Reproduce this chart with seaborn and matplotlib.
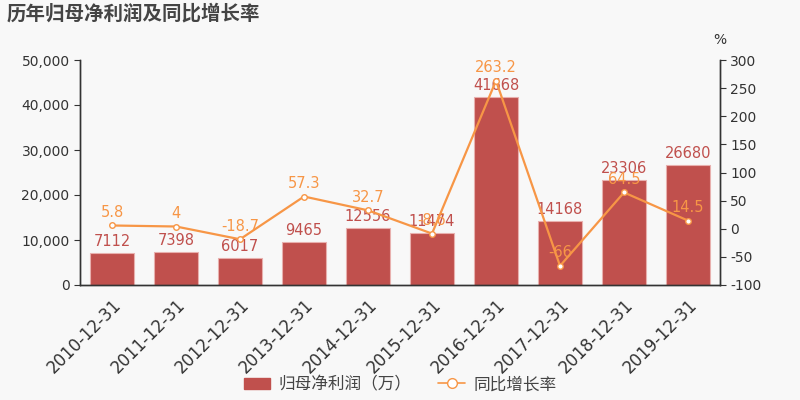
import pandas as pd
import numpy as np
import matplotlib.pyplot as plt
import seaborn as sns
from matplotlib.lines import Line2D
from matplotlib.patches import Patch

# data
years = ['2010-12-31', '2011-12-31', '2012-12-31', '2013-12-31', '2014-12-31',
         '2015-12-31', '2016-12-31', '2017-12-31', '2018-12-31', '2019-12-31']
profit = [7112, 7398, 6017, 9465, 12556, 11474, 41668, 14168, 23306, 26680]
growth = [5.8, 4, -18.7, 57.3, 32.7, -8.6, 263.2, -66, 64.5, 14.5]

bar_color = '#c0504d'
line_color = '#f79646'
bg = '#f8f8f8'
text_color = '#333333'

sns.set_style("white")
plt.rcParams['font.family'] = ['DejaVu Sans', 'Noto Sans CJK SC']

df = pd.DataFrame({'year': years, 'profit': profit, 'growth': growth})

fig = plt.figure(figsize=(8, 4), dpi=100, facecolor=bg)
ax = fig.add_axes([0.1, 0.2875, 0.8, 0.5625])
ax.set_facecolor(bg)

sns.barplot(data=df, x='year', y='profit', color=bar_color, width=0.7,
            saturation=1, edgecolor='#e8b0ae', linewidth=0.8, ax=ax)
ax.set_ylim(0, 50000)
ax.set_yticks(np.arange(0, 50001, 10000))
ax.set_yticklabels([f'{v:,}' for v in range(0, 50001, 10000)], fontsize=10, color=text_color)
ax.set_xlabel('')
ax.set_ylabel('')
ax.set_xlim(-0.5, len(years) - 0.5)
ax.set_xticks(range(len(years)))
ax.set_xticklabels(years, rotation=45, ha='right', rotation_mode='anchor', fontsize=12, color=text_color)
ax.tick_params(axis='both', length=4, color=text_color)

for i, v in enumerate(profit):
    ax.text(i, v + 900, str(v), ha='center', va='bottom', fontsize=10.5, color=bar_color)

ax2 = ax.twinx()
sns.lineplot(x=range(len(years)), y=growth, color=line_color, linewidth=1.6,
             marker='o', markersize=4, markerfacecolor='white',
             markeredgecolor=line_color, markeredgewidth=1, ax=ax2)
ax2.set_ylim(-100, 300)
ax2.set_yticks(range(-100, 301, 50))
ax2.set_yticklabels([str(v) for v in range(-100, 301, 50)], fontsize=10, color=text_color)
ax2.tick_params(axis='y', length=4, color=text_color)
ax2.text(1.0, 1.06, '%', transform=ax2.transAxes, ha='center', va='bottom',
         fontsize=10, color=text_color)

for i, g in enumerate(growth):
    lbl = f'{g:g}'
    ax2.text(i, g + 10, lbl, ha='center', va='bottom', fontsize=10.5, color=line_color)

for a in (ax, ax2):
    a.spines['top'].set_visible(False)
    for s in ('left', 'right', 'bottom'):
        a.spines[s].set_color(text_color)
        a.spines[s].set_linewidth(1)

fig.text(0.008, 0.965, '历年归母净利润及同比增长率', fontsize=14, fontweight='bold',
         color='#444444', ha='left', va='center',
         family=['Noto Sans CJK SC', 'DejaVu Sans'])

handles = [Patch(facecolor=bar_color, edgecolor=bar_color),
           Line2D([0], [0], color=line_color, marker='o', markersize=7,
                  markerfacecolor='white', markeredgecolor=line_color, linewidth=1.2)]
fig.legend(handles, ['归母净利润（万）', '同比增长率'], loc='center', bbox_to_anchor=(0.5, 0.038),
           ncol=2, frameon=False, handlelength=1.6, handletextpad=0.5,
           columnspacing=1.6, labelcolor='#444444',
           prop={'family': ['Noto Sans CJK SC', 'DejaVu Sans'], 'size': 12})

fig.savefig('out.png', dpi=100, facecolor=bg)
